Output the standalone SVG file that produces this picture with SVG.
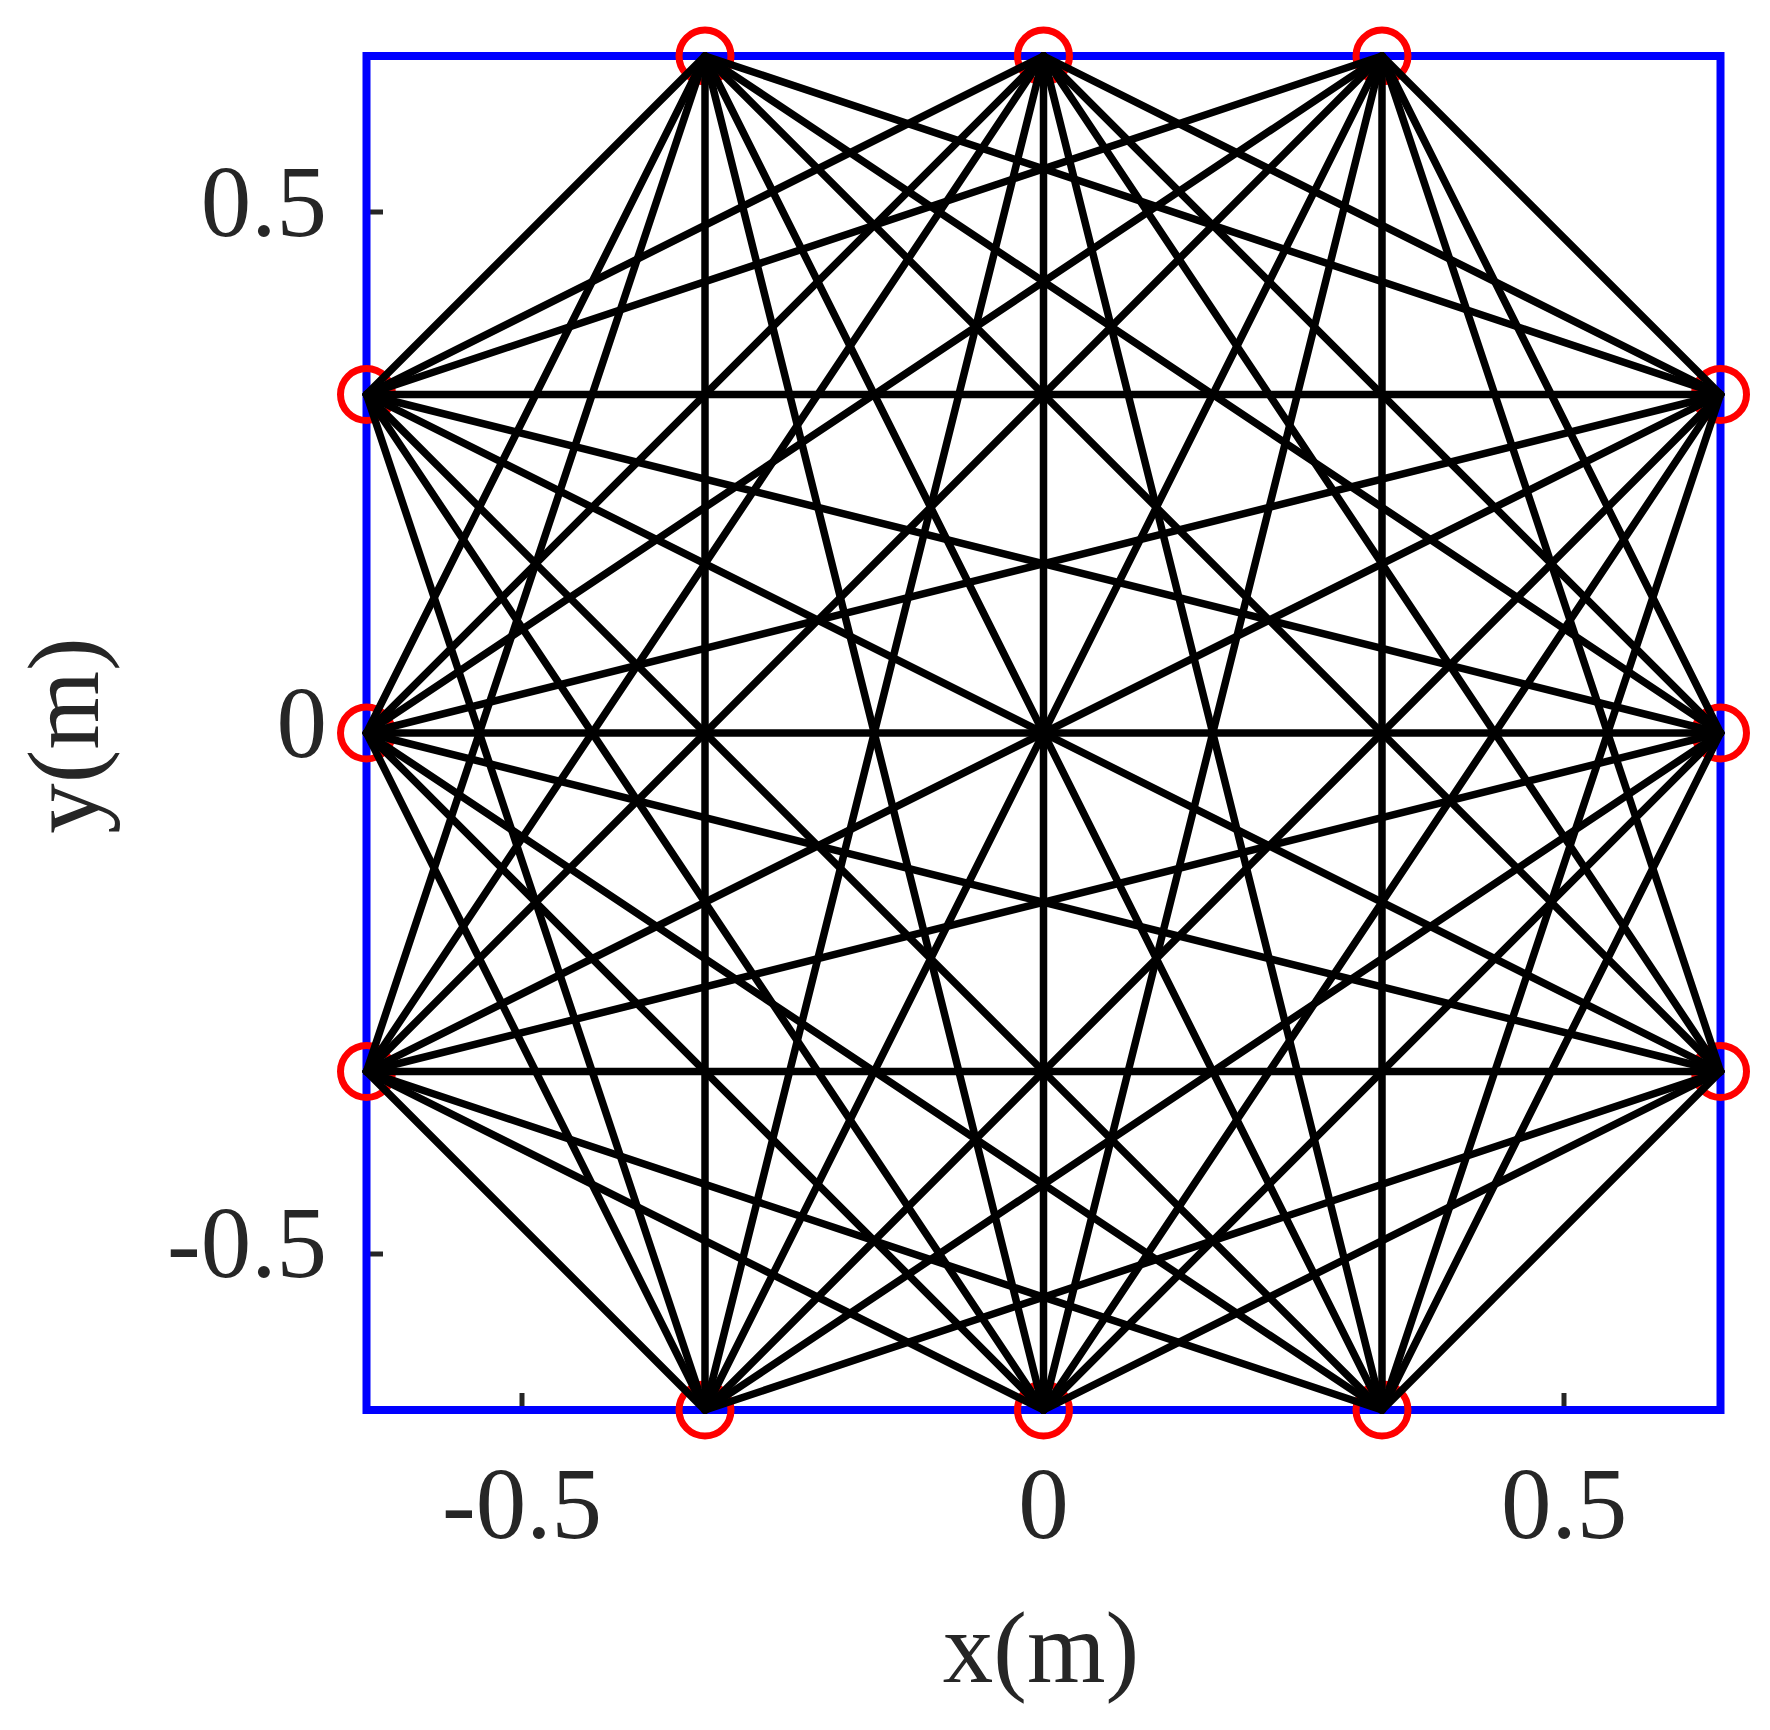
<svg xmlns="http://www.w3.org/2000/svg" width="1770" height="1730" viewBox="0 0 1770 1730">
<style>
.lbl{font-family:"Liberation Serif","DejaVu Serif",serif;font-size:101px;fill:#262626}
.tick{stroke:#262626;stroke-width:5}
.node{fill:none;stroke:#ff0000;stroke-width:7}
.edges line{stroke:#000;stroke-width:7.5;stroke-linecap:round}
</style>
<rect width="1770" height="1730" fill="#fff"/>
<g id="axes">
<line class="tick" x1="522" y1="1410" x2="522" y2="1393"/>
<line class="tick" x1="1043.5" y1="1410" x2="1043.5" y2="1393"/>
<line class="tick" x1="1564" y1="1410" x2="1564" y2="1393"/>
<line class="tick" x1="366.5" y1="212" x2="383" y2="212"/>
<line class="tick" x1="366.5" y1="733" x2="383" y2="733"/>
<line class="tick" x1="366.5" y1="1254" x2="383" y2="1254"/>
<text class="lbl" x="522" y="1538" text-anchor="middle">-0.5</text>
<text class="lbl" x="1043.5" y="1538" text-anchor="middle">0</text>
<text class="lbl" x="1564" y="1538" text-anchor="middle">0.5</text>
<text class="lbl" x="327" y="236" text-anchor="end">0.5</text>
<text class="lbl" x="327" y="757" text-anchor="end">0</text>
<text class="lbl" x="327" y="1277" text-anchor="end">-0.5</text>
<text class="lbl" x="1041" y="1682" text-anchor="middle">x(m)</text>
<text class="lbl" transform="translate(98,735.5) rotate(-90)" text-anchor="middle">y(m)</text>
</g>
<rect id="frame" x="366.5" y="56" width="1354" height="1354" fill="none" stroke="#0000ff" stroke-width="8"/>
<g id="T1"><circle class="node" cx="705" cy="56" r="26"/></g>
<g id="T2"><circle class="node" cx="1043.5" cy="56" r="26"/></g>
<g id="T3"><circle class="node" cx="1382" cy="56" r="26"/></g>
<g id="B1"><circle class="node" cx="705" cy="1410" r="26"/></g>
<g id="B2"><circle class="node" cx="1043.5" cy="1410" r="26"/></g>
<g id="B3"><circle class="node" cx="1382" cy="1410" r="26"/></g>
<g id="L1"><circle class="node" cx="366.5" cy="394.5" r="26"/></g>
<g id="L2"><circle class="node" cx="366.5" cy="733" r="26"/></g>
<g id="L3"><circle class="node" cx="366.5" cy="1071.5" r="26"/></g>
<g id="R1"><circle class="node" cx="1720.5" cy="394.5" r="26"/></g>
<g id="R2"><circle class="node" cx="1720.5" cy="733" r="26"/></g>
<g id="R3"><circle class="node" cx="1720.5" cy="1071.5" r="26"/></g>
<g id="connectors" class="edges">
<line x1="705" y1="56" x2="705" y2="1410"/>
<line x1="705" y1="56" x2="1043.5" y2="1410"/>
<line x1="705" y1="56" x2="1382" y2="1410"/>
<line x1="1043.5" y1="56" x2="705" y2="1410"/>
<line x1="1043.5" y1="56" x2="1043.5" y2="1410"/>
<line x1="1043.5" y1="56" x2="1382" y2="1410"/>
<line x1="1382" y1="56" x2="705" y2="1410"/>
<line x1="1382" y1="56" x2="1043.5" y2="1410"/>
<line x1="1382" y1="56" x2="1382" y2="1410"/>
<line x1="366.5" y1="394.5" x2="1720.5" y2="394.5"/>
<line x1="366.5" y1="394.5" x2="1720.5" y2="733"/>
<line x1="366.5" y1="394.5" x2="1720.5" y2="1071.5"/>
<line x1="366.5" y1="733" x2="1720.5" y2="394.5"/>
<line x1="366.5" y1="733" x2="1720.5" y2="733"/>
<line x1="366.5" y1="733" x2="1720.5" y2="1071.5"/>
<line x1="366.5" y1="1071.5" x2="1720.5" y2="394.5"/>
<line x1="366.5" y1="1071.5" x2="1720.5" y2="733"/>
<line x1="366.5" y1="1071.5" x2="1720.5" y2="1071.5"/>
<line x1="705" y1="56" x2="366.5" y2="394.5"/>
<line x1="705" y1="56" x2="366.5" y2="733"/>
<line x1="705" y1="56" x2="366.5" y2="1071.5"/>
<line x1="1043.5" y1="56" x2="366.5" y2="394.5"/>
<line x1="1043.5" y1="56" x2="366.5" y2="733"/>
<line x1="1043.5" y1="56" x2="366.5" y2="1071.5"/>
<line x1="1382" y1="56" x2="366.5" y2="394.5"/>
<line x1="1382" y1="56" x2="366.5" y2="733"/>
<line x1="1382" y1="56" x2="366.5" y2="1071.5"/>
<line x1="705" y1="56" x2="1720.5" y2="394.5"/>
<line x1="705" y1="56" x2="1720.5" y2="733"/>
<line x1="705" y1="56" x2="1720.5" y2="1071.5"/>
<line x1="1043.5" y1="56" x2="1720.5" y2="394.5"/>
<line x1="1043.5" y1="56" x2="1720.5" y2="733"/>
<line x1="1043.5" y1="56" x2="1720.5" y2="1071.5"/>
<line x1="1382" y1="56" x2="1720.5" y2="394.5"/>
<line x1="1382" y1="56" x2="1720.5" y2="733"/>
<line x1="1382" y1="56" x2="1720.5" y2="1071.5"/>
<line x1="705" y1="1410" x2="366.5" y2="394.5"/>
<line x1="705" y1="1410" x2="366.5" y2="733"/>
<line x1="705" y1="1410" x2="366.5" y2="1071.5"/>
<line x1="1043.5" y1="1410" x2="366.5" y2="394.5"/>
<line x1="1043.5" y1="1410" x2="366.5" y2="733"/>
<line x1="1043.5" y1="1410" x2="366.5" y2="1071.5"/>
<line x1="1382" y1="1410" x2="366.5" y2="394.5"/>
<line x1="1382" y1="1410" x2="366.5" y2="733"/>
<line x1="1382" y1="1410" x2="366.5" y2="1071.5"/>
<line x1="705" y1="1410" x2="1720.5" y2="394.5"/>
<line x1="705" y1="1410" x2="1720.5" y2="733"/>
<line x1="705" y1="1410" x2="1720.5" y2="1071.5"/>
<line x1="1043.5" y1="1410" x2="1720.5" y2="394.5"/>
<line x1="1043.5" y1="1410" x2="1720.5" y2="733"/>
<line x1="1043.5" y1="1410" x2="1720.5" y2="1071.5"/>
<line x1="1382" y1="1410" x2="1720.5" y2="394.5"/>
<line x1="1382" y1="1410" x2="1720.5" y2="733"/>
<line x1="1382" y1="1410" x2="1720.5" y2="1071.5"/>
</g>
</svg>
